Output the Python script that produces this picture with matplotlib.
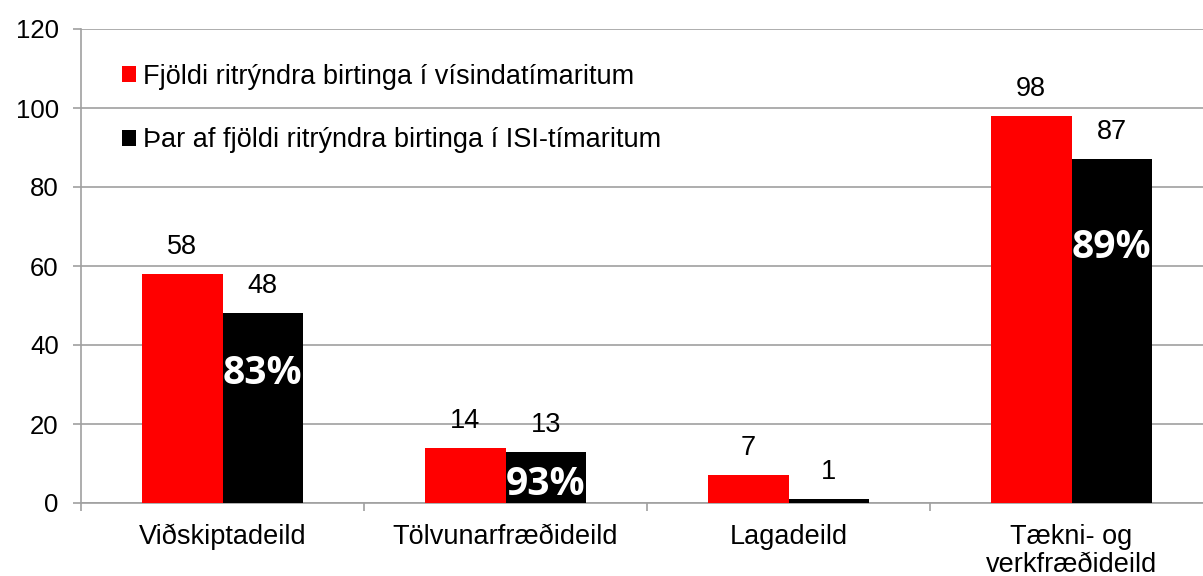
import numpy as np
import matplotlib.pyplot as plt

plt.rcParams['font.family'] = ['Liberation Sans', 'DejaVu Sans']

categories = ['Viðskiptadeild', 'Tölvunarfræðideild', 'Lagadeild', 'Tækni- og\nverkfræðideild']
total = [58, 14, 7, 98]
isi = [48, 13, 1, 87]
series_names = ['Fjöldi ritrýndra birtinga í vísindatímaritum',
                'Þar af fjöldi ritrýndra birtinga í ISI-tímaritum']
pct_labels = ['83%', '93%', None, '89%']
pct_y = [32.7, 4.7, None, 64.7]

fig = plt.figure(figsize=(12.03, 5.76), dpi=100)
ax = fig.add_axes([81 / 1203, 1 - 503 / 576, 1132 / 1203, 474 / 576])

x = np.arange(len(categories))
w = 0.285
b1 = ax.bar(x - w / 2, total, w, color='#ff0000', label=series_names[0], zorder=3)
b2 = ax.bar(x + w / 2, isi, w, color='#000000', label=series_names[1], zorder=3)

for bars, vals in [(b1, total), (b2, isi)]:
    for r, v in zip(bars, vals):
        ax.annotate(str(v), (r.get_x() + r.get_width() / 2, v), xytext=(0, 19.5),
                    textcoords='offset points', ha='center', va='center', fontsize=19.5)

for i, (lab, y) in enumerate(zip(pct_labels, pct_y)):
    if lab:
        ax.text(x[i] + w / 2, y, lab, ha='center', va='center', color='white',
                fontsize=28, fontweight='bold', family='Open Sans', zorder=4)

ax.set_xlim(-0.5, 3.5)
ax.set_ylim(0, 120)
ax.set_yticks(range(0, 121, 20))
ax.set_xticks(x)
ax.set_xticklabels(categories, fontsize=19.5, linespacing=1.1)
ax.set_xticks(np.arange(-0.5, 4, 1), minor=True)
ax.tick_params(axis='x', which='major', length=0, pad=15)
ax.tick_params(axis='x', which='minor', length=6, color='#a0a0a0', width=1.2)
ax.tick_params(axis='y', length=6, color='#a0a0a0', width=1.2, labelsize=18.5, pad=10)
ax.yaxis.grid(True, color='#a0a0a0', linewidth=1.2, zorder=0)
ax.set_axisbelow(True)
for s in ['top', 'right']:
    ax.spines[s].set_visible(False)
for s in ['left', 'bottom']:
    ax.spines[s].set_color('#a0a0a0')
    ax.spines[s].set_linewidth(1.2)

leg = ax.legend(loc='upper left', bbox_to_anchor=(0.027, 0.95), frameon=False, fontsize=19.5,
                handlelength=0.52, handleheight=0.52, handletextpad=0.25, labelspacing=1.4,
                borderaxespad=0)

fig.savefig('out.png', dpi=100)
